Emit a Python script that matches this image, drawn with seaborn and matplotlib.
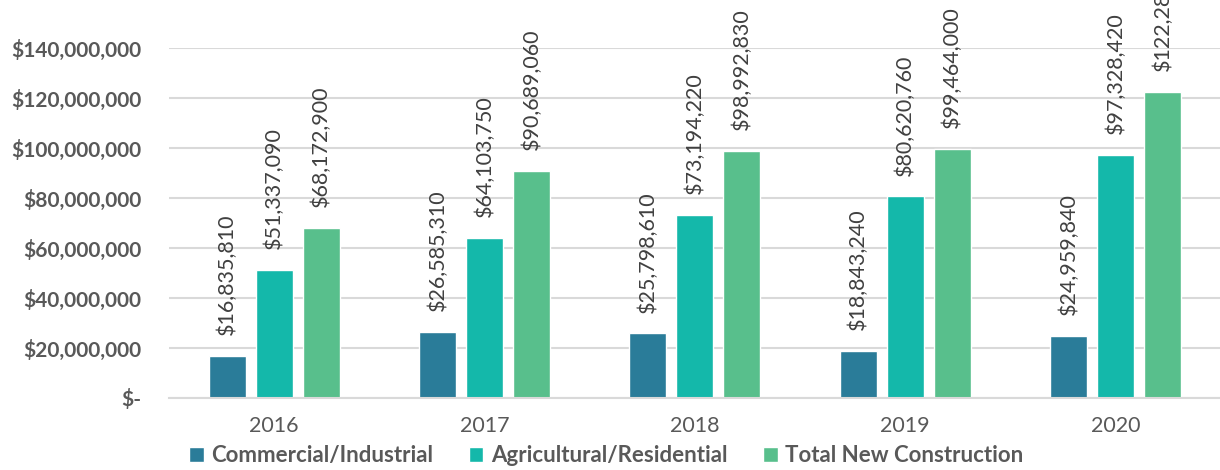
import numpy as np
import pandas as pd
import seaborn as sns
import matplotlib.pyplot as plt

years = ['2016', '2017', '2018', '2019', '2020']
series = ['Commercial/Industrial', 'Agricultural/Residential', 'Total New Construction']
commercial = [16835810, 26585310, 25798610, 18843240, 24959840]
agricultural = [51337090, 64103750, 73194220, 80620760, 97328420]
total = [68172900, 90689060, 98992830, 99464000, 122288260]
colors = ['#2A7C99', '#14B8AA', '#58BF8C']

df = pd.DataFrame({
    'year': years * 3,
    'series': [series[0]] * 5 + [series[1]] * 5 + [series[2]] * 5,
    'value': commercial + agricultural + total,
})

sns.set_style('white')
plt.rcParams['font.family'] = ['Lato', 'DejaVu Sans']

fig = plt.figure(figsize=(12.2, 4.7), dpi=100)
ax = fig.add_axes([0.1385, 0.1532, 0.862, 0.7447])

sns.barplot(data=df, x='year', y='value', hue='series', hue_order=series,
            palette=colors, saturation=1, errorbar=None, width=0.67, gap=0.21, ax=ax)

# rotated value labels above each bar (top one runs off the figure like the original)
for c in ax.containers:
    ax.bar_label(c, labels=['${:,.0f}'.format(v) for v in c.datavalues],
                 rotation=90, padding=15, fontsize=15.5, color='#404040', clip_on=False)

ax.set_ylim(0, 140000000)
yticks = np.arange(0, 140000001, 20000000)
ax.set_yticks(yticks)
ax.set_yticklabels(['$-' if v == 0 else '${:,.0f}'.format(v) for v in yticks],
                   fontweight='bold', fontsize=15, color='#595959')
ax.grid(axis='y', color='#D9D9D9', linewidth=1.5)
ax.set_axisbelow(True)
for s in ['top', 'right', 'left']:
    ax.spines[s].set_visible(False)
ax.spines['bottom'].set_color('#D9D9D9')
ax.spines['bottom'].set_linewidth(1.5)
ax.tick_params(axis='both', length=0)
ax.tick_params(axis='y', pad=20)
ax.tick_params(axis='x', labelsize=15.5, labelcolor='#595959', pad=13)
ax.set_xlabel('')
ax.set_ylabel('')

handles, labels = ax.get_legend_handles_labels()
ax.get_legend().remove()
leg = fig.legend(handles, labels, loc='lower center', bbox_to_anchor=(0.497, -0.035), ncol=3,
                 frameon=False, handlelength=0.65, handleheight=0.65, handletextpad=0.35,
                 columnspacing=1.6, prop={'size': 16, 'weight': 'bold'})
for t in leg.get_texts():
    t.set_color('#595959')

fig.savefig('out.png', dpi=100)
